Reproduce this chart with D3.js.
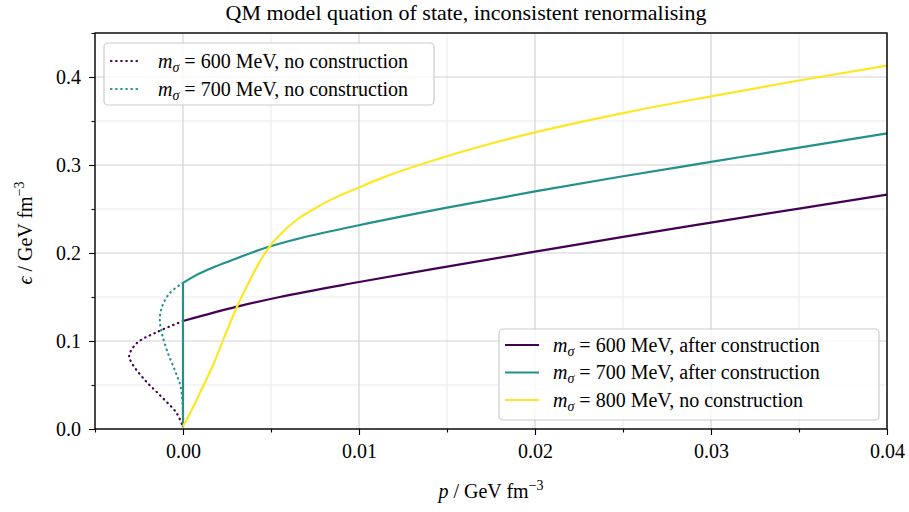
<!DOCTYPE html>
<html>
<head>
<meta charset="utf-8">
<script src="https://cdn.jsdelivr.net/npm/d3@7"></script>
<style>
  html, body { margin: 0; padding: 0; background: #fff; }
  svg { display: block; }
  text { font-family: "Liberation Serif", "DejaVu Serif", serif; fill: #000; }
</style>
</head>
<body>
<svg id="chart" width="909" height="512"></svg>
<script>
// Equation of state curves: pressure p and energy density eps, both in GeV fm^-3
// unstable branches (no Maxwell construction)
const p600Full = [0, -0.00149, -0.00262, -0.00306, -0.00291, -0.00217, -0.00121, -0.00036, 0];
const e600Full = [0.1227, 0.110, 0.0977, 0.083, 0.075, 0.0557, 0.0364, 0.018, 0.002];

const p700Full = [0, -0.00075, -0.0012, -0.00132, -0.0012, -0.00092, -0.00047, -0.00013, 0, 0];
const e700Full = [0.166, 0.1545, 0.1386, 0.1239, 0.109, 0.0898, 0.067, 0.0477, 0.018, 0.002];

// after construction
const p600 = [0, 0.00307, 0.0055, 0.01, 0.015, 0.02, 0.025, 0.03, 0.035, 0.04];
const e600 = [0.1227, 0.139, 0.150, 0.167, 0.1845, 0.2015, 0.2183, 0.2345, 0.2505, 0.2663];

// vertical jump at p = 0, then the regular branch
const p700Jump = [0, 0];
const e700Jump = [0.002, 0.166];
const p700 = [0, 0.00068, 0.0017, 0.00266, 0.00478, 0.0064, 0.01, 0.015, 0.02, 0.025, 0.03, 0.035, 0.04];
const e700 = [0.166, 0.174, 0.1835, 0.191, 0.2065, 0.2155, 0.2315, 0.2515, 0.2700, 0.2872, 0.3035, 0.3198, 0.336];

const p800 = [0, 0.00068, 0.00095, 0.0018, 0.0022, 0.00307, 0.0038, 0.00437, 0.00478, 0.0055, 0.00645, 0.0074, 0.0085, 0.01, 0.0112, 0.015, 0.02, 0.0225, 0.025, 0.03, 0.035, 0.04];
const e800 = [0.003, 0.029, 0.0405, 0.077, 0.097, 0.139, 0.169, 0.1905, 0.2035, 0.2205, 0.2375, 0.2495, 0.2615, 0.2745, 0.2845, 0.310, 0.337, 0.3485, 0.359, 0.378, 0.396, 0.413];

const xTicks = [0, 0.01, 0.02, 0.03, 0.04];
const xMinor = [-0.005, 0.005, 0.015, 0.025, 0.035];
const yTicks = [0, 0.1, 0.2, 0.3, 0.4];
const yMinor = [0.05, 0.15, 0.25, 0.35, 0.45];

const massLabels = ["600", "700", "800"];
const colors = ["#440154", "#21918c", "#fde725"];

const titleText = "QM model quation of state, inconsistent renormalising";

const W = 909, H = 512;
const margin = { left: 95, right: 22, top: 33, bottom: 83 };
const iw = W - margin.left - margin.right;
const ih = H - margin.top - margin.bottom;

const svg = d3.select("#chart");
const x = d3.scaleLinear().domain([-0.005, 0.04]).range([margin.left, margin.left + iw]);
const y = d3.scaleLinear().domain([0, 0.45]).range([margin.top + ih, margin.top]);

// grid: minor first, then major
const grid = svg.append("g");
grid.selectAll(".vminor").data(xMinor).join("line")
  .attr("x1", d => x(d)).attr("x2", d => x(d))
  .attr("y1", margin.top).attr("y2", margin.top + ih)
  .attr("stroke", "#ececec").attr("stroke-width", 1.1);
grid.selectAll(".hminor").data(yMinor).join("line")
  .attr("y1", d => y(d)).attr("y2", d => y(d))
  .attr("x1", margin.left).attr("x2", margin.left + iw)
  .attr("stroke", "#ececec").attr("stroke-width", 1.1);
grid.selectAll(".vmajor").data(xTicks).join("line")
  .attr("x1", d => x(d)).attr("x2", d => x(d))
  .attr("y1", margin.top).attr("y2", margin.top + ih)
  .attr("stroke", "#d3d3d3").attr("stroke-width", 1.2);
grid.selectAll(".hmajor").data(yTicks).join("line")
  .attr("y1", d => y(d)).attr("y2", d => y(d))
  .attr("x1", margin.left).attr("x2", margin.left + iw)
  .attr("stroke", "#d3d3d3").attr("stroke-width", 1.2);

// curves
const zip = (ps, es) => ps.map((p, i) => [p, es[i]]);
const loopLine = d3.line().x(d => x(d[0])).y(d => y(d[1])).curve(d3.curveCatmullRom.alpha(0.5));
const smoothLine = d3.line().x(d => x(d[0])).y(d => y(d[1])).curve(d3.curveMonotoneX);
const straightLine = d3.line().x(d => x(d[0])).y(d => y(d[1]));

const plot = svg.append("g");
const series = [
  { d: loopLine(zip(p600Full, e600Full)), color: colors[0], dotted: true },
  { d: loopLine(zip(p700Full, e700Full)), color: colors[1], dotted: true },
  { d: smoothLine(zip(p600, e600)), color: colors[0], dotted: false },
  { d: straightLine(zip(p700Jump, e700Jump)) + smoothLine(zip(p700, e700)).replace(/^M/, "L"), color: colors[1], dotted: false },
  { d: smoothLine(zip(p800, e800)), color: colors[2], dotted: false }
];
series.forEach(s => {
  plot.append("path")
    .attr("d", s.d)
    .attr("fill", "none")
    .attr("stroke", s.color)
    .attr("stroke-width", 2.2)
    .attr("stroke-linejoin", "round")
    .attr("stroke-linecap", s.dotted ? "round" : "butt")
    .attr("stroke-dasharray", s.dotted ? "0.5,4.6" : null);
});

// axes
const fs = 20;
const xAxis = d3.axisBottom(x).tickValues(xTicks).tickSize(6).tickPadding(9).tickFormat(d3.format(".2f"));
const xAxisMinor = d3.axisBottom(x).tickValues(xMinor).tickSize(3.5).tickFormat("");
const yAxis = d3.axisLeft(y).tickValues(yTicks).tickSize(6).tickPadding(8).tickFormat(d3.format(".1f"));
const yAxisMinor = d3.axisLeft(y).tickValues(yMinor).tickSize(3.5).tickFormat("");

function styleAxis(g) {
  g.select(".domain").remove();
  g.selectAll(".tick line").attr("stroke", "#000").attr("stroke-width", 1.1);
  g.selectAll("text").style("font-size", fs + "px").attr("fill", "#000")
    .style("font-family", "'Liberation Serif', serif");
}
svg.append("g").attr("transform", `translate(0,${margin.top + ih})`).call(xAxis).call(styleAxis);
svg.append("g").attr("transform", `translate(0,${margin.top + ih})`).call(xAxisMinor).call(styleAxis);
svg.append("g").attr("transform", `translate(${margin.left},0)`).call(yAxis).call(styleAxis);
svg.append("g").attr("transform", `translate(${margin.left},0)`).call(yAxisMinor).call(styleAxis);

// frame
svg.append("rect")
  .attr("x", margin.left).attr("y", margin.top)
  .attr("width", iw).attr("height", ih)
  .attr("fill", "none").attr("stroke", "#000").attr("stroke-width", 1.4);

// title
svg.append("text")
  .attr("x", 466).attr("y", 20)
  .attr("text-anchor", "middle")
  .style("font-size", "22px")
  .text(titleText);

// axis labels
const xl = svg.append("text")
  .attr("x", margin.left + iw / 2).attr("y", 498)
  .attr("text-anchor", "middle")
  .style("font-size", "20px");
xl.append("tspan").style("font-style", "italic").text("p");
xl.append("tspan").text(" / GeV fm");
xl.append("tspan").attr("dy", -8).style("font-size", "14px").text("−3");

const yl = svg.append("text")
  .attr("transform", `translate(32,${margin.top + ih / 2 + 2}) rotate(-90)`)
  .attr("text-anchor", "middle")
  .style("font-size", "20px");
yl.append("tspan").style("font-style", "italic").text("ϵ");
yl.append("tspan").text(" / GeV fm");
yl.append("tspan").attr("dy", -8).style("font-size", "14px").text("−3");

// legends
function legendLabel(g, tx, ty, mass, suffix) {
  const t = g.append("text").attr("x", tx).attr("y", ty).attr("dy", "0.33em").style("font-size", "20px");
  t.append("tspan").style("font-style", "italic").text("m");
  t.append("tspan").attr("dy", 4).style("font-style", "italic").style("font-size", "14px").text("σ");
  t.append("tspan").attr("dy", -4).text(" = " + mass + " MeV, " + suffix);
}

function drawLegend(box, rows) {
  const g = svg.append("g");
  g.append("rect")
    .attr("x", box.x).attr("y", box.y).attr("width", box.w).attr("height", box.h)
    .attr("rx", 4).attr("ry", 4)
    .attr("fill", "rgba(255,255,255,0.8)")
    .attr("stroke", "#cccccc").attr("stroke-width", 1.2);
  rows.forEach((r, i) => {
    const ry = box.firstRow + i * box.step;
    g.append("line")
      .attr("x1", box.lx1).attr("x2", box.lx2).attr("y1", ry).attr("y2", ry)
      .attr("stroke", r.color).attr("stroke-width", 2.2)
      .attr("stroke-linecap", r.dotted ? "round" : "butt")
      .attr("stroke-dasharray", r.dotted ? "0.5,4.6" : null);
    legendLabel(g, box.tx, ry, r.mass, r.suffix);
  });
}

drawLegend(
  { x: 104, y: 43, w: 330, h: 62, firstRow: 61, step: 28, lx1: 111, lx2: 140, tx: 158 },
  [
    { color: colors[0], dotted: true, mass: massLabels[0], suffix: "no construction" },
    { color: colors[1], dotted: true, mass: massLabels[1], suffix: "no construction" }
  ]
);
drawLegend(
  { x: 499, y: 329, w: 380, h: 91, firstRow: 345, step: 27.5, lx1: 505, lx2: 539, tx: 553 },
  [
    { color: colors[0], dotted: false, mass: massLabels[0], suffix: "after construction" },
    { color: colors[1], dotted: false, mass: massLabels[1], suffix: "after construction" },
    { color: colors[2], dotted: false, mass: massLabels[2], suffix: "no construction" }
  ]
);
</script>
</body>
</html>
